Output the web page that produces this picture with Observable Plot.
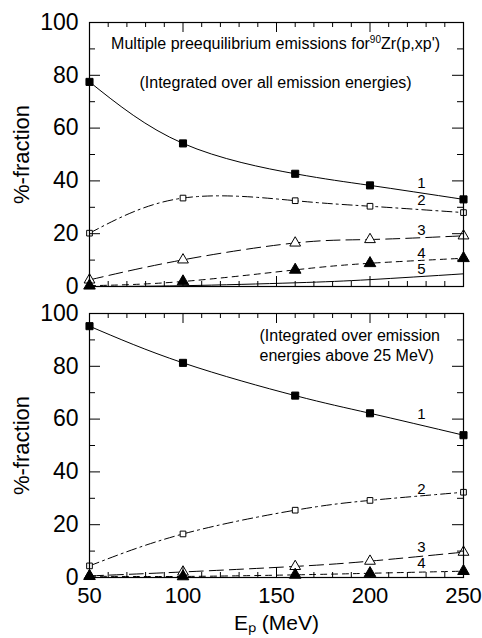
<!DOCTYPE html>
<html><head><meta charset="utf-8">
<script src="https://cdn.jsdelivr.net/npm/d3@7"></script>
<script src="https://cdn.jsdelivr.net/npm/@observablehq/plot@0.6"></script>
<style>body{margin:0;background:#fff;} svg{display:block;}</style>
</head><body><div id="c"></div>
<script>
// ---- data ----
const energies = [50, 100, 160, 200, 250];
const topS1 = [77.5, 54.2, 42.7, 38.3, 33.0];
const topS2 = [20.2, 33.5, 32.5, 30.4, 28.0];
const topS3 = [2.5, 10.1, 16.5, 17.8, 19.2];
const topS4 = [0.3, 1.9, 6.3, 8.8, 10.7];
const topS5 = [0.0, 0.3, 1.4, 2.6, 4.8];
const botS1 = [95.2, 81.3, 68.9, 62.2, 53.9];
const botS2 = [4.4, 16.5, 25.5, 29.2, 32.3];
const botS3 = [0.6, 2.1, 4.2, 6.2, 9.6];
const botS4 = [0.5, 0.4, 1.0, 1.6, 2.4];
const seriesNames = ["1", "2", "3", "4", "5"];
const topLabelY = [39, 32.6, 21.2, 12.5, 6.6];
const botLabelY = [61.7, 33.3, 11.6, 5.6];
const labelX = 227.5;
const yTicks = [0, 20, 40, 60, 80, 100];
const yMinor = [10, 30, 50, 70, 90];
const xTicks = [50, 100, 150, 200, 250];
const xMinor = d3.range(60, 250, 10).filter(v => v % 50 !== 0);
const topTitle = ["Multiple preequilibrium emissions for^90Zr(p,xp')", "(Integrated over all emission energies)"];
const topTitleY = [92, 77.3];
const topTitleX = 149.5;
const botTitle = ["(Integrated over emission", "energies above 25 MeV)"];
const botTitleY = [91.7, 84.1];
const botTitleX = 140.9;

// ---- styles per series ----
const styles = [
  {dash: null, symbol: "square", fill: "black", r: 4},
  {dash: "10,4,2,4", symbol: "square", fill: "white", r: 3.2},
  {dash: "14,6", symbol: "triangle", fill: "white", r: 4},
  {dash: "6,5", symbol: "triangle", fill: "black", r: 4.3},
  {dash: null, symbol: null, fill: null, r: 0}
];

const W = 482, ML = 89, MR = 19, PH = 264, PW = W - ML - MR;
const FONT = "Liberation Sans, Arial, Helvetica, sans-serif";

function panel({series, labelsY, titles, titleX, titleY, titleAnchor, height, marginTop, showX}) {
  const marks = [];
  series.forEach((vals, i) => {
    const st = styles[i];
    const data = energies.map((e, j) => ({e, v: vals[j]}));
    marks.push(Plot.line(data, {x: "e", y: "v", curve: "natural", stroke: "black", strokeWidth: 1, strokeDasharray: st.dash}));
    if (st.symbol) marks.push(Plot.dot(data, {x: "e", y: "v", symbol: st.symbol, r: st.r, fill: st.fill, stroke: "black", strokeWidth: 1}));
  });
  marks.push(Plot.text(labelsY.map((y, i) => ({x: labelX, y, t: seriesNames[i]})), {x: "x", y: "y", text: "t", fontSize: 15, fill: "black"}));
  marks.push(Plot.text(titles.map((t, i) => ({x: titleX, y: titleY[i], t})), {x: "x", y: "y", text: "t", fontSize: 16, fill: "black", textAnchor: titleAnchor}));
  // inward ticks
  marks.push(Plot.tickX(xMinor, {x: d => d, insetTop: PH - 5, stroke: "black"}));
  marks.push(Plot.tickX(xMinor, {x: d => d, insetBottom: PH - 5, stroke: "black"}));
  marks.push(Plot.tickX(xTicks, {x: d => d, insetTop: PH - 10, stroke: "black"}));
  marks.push(Plot.tickX(xTicks, {x: d => d, insetBottom: PH - 10, stroke: "black"}));
  marks.push(Plot.tickY(yMinor, {y: d => d, insetRight: PW - 6, stroke: "black"}));
  marks.push(Plot.tickY(yMinor, {y: d => d, insetLeft: PW - 6, stroke: "black"}));
  marks.push(Plot.tickY(yTicks, {y: d => d, insetRight: PW - 11, stroke: "black"}));
  marks.push(Plot.tickY(yTicks, {y: d => d, insetLeft: PW - 11, stroke: "black"}));
  marks.push(Plot.axisY({ticks: yTicks, tickSize: 0, tickPadding: 11, fontSize: 23, label: null}));
  marks.push(Plot.axisY({ticks: [], tickSize: 0, fontSize: 22, label: "%-fraction", labelArrow: "none", labelAnchor: "center", labelOffset: 76}));
  if (showX) {
    marks.push(Plot.axisX({ticks: xTicks, tickSize: 0, tickPadding: 10, fontSize: 22, label: null}));
    marks.push(Plot.axisX({ticks: [], tickSize: 0, fontSize: 21, label: "E\u209A (MeV)", labelArrow: "none", labelAnchor: "center", labelOffset: 52}));
  } else marks.push(Plot.axisX({ticks: [], label: null}));
  marks.push(Plot.frame({stroke: "black", strokeWidth: 1.2}));
  const svg = Plot.plot({
    width: W, height,
    marginLeft: ML, marginRight: MR, marginTop, marginBottom: height - marginTop - PH,
    x: {domain: [50, 250]},
    y: {domain: [0, 100]},
    style: {fontFamily: FONT, color: "black", background: "white", overflow: "visible"},
    marks
  });
  // superscript handling for "^90"
  d3.select(svg).selectAll("text").each(function() {
    const el = d3.select(this);
    if (this.childElementCount === 0 && this.textContent.includes("^90")) {
      const [a, b] = this.textContent.split("^90");
      el.text(null);
      el.append("tspan").text(a);
      el.append("tspan").attr("font-size", 10).attr("dy", -6).text("90");
      el.append("tspan").attr("dy", 6).text(b);
    }
  });
  return svg;
}

const c = document.getElementById("c");
c.appendChild(panel({series: [topS1, topS2, topS3, topS4, topS5], labelsY: topLabelY, titles: topTitle, titleX: topTitleX, titleY: topTitleY, titleAnchor: "middle", height: 300, marginTop: 22, showX: false}));
c.appendChild(panel({series: [botS1, botS2, botS3, botS4], labelsY: botLabelY, titles: botTitle, titleX: botTitleX, titleY: botTitleY, titleAnchor: "start", height: 338, marginTop: 13, showX: true}));
</script></body></html>
